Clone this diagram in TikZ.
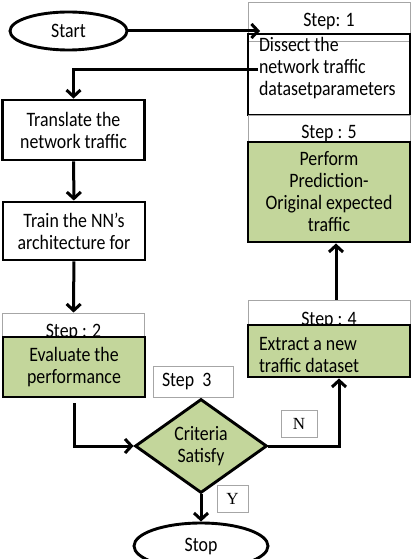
\documentclass[tikz,border=0pt]{standalone}
\usepackage{fontspec}
\setmainfont{Carlito}[FakeStretch=0.87]
\newfontfamily\ynfont{Liberation Serif}
\usetikzlibrary{shapes.geometric,arrows.meta}
\definecolor{boxgreen}{RGB}{195,214,155}

\begin{document}
\begin{tikzpicture}[x=1pt,y=-1pt]
  \useasboundingbox (0,0) rectangle (417,559);

  \tikzset{
    main box/.style={draw, line width=2.9pt, minimum width=142pt, minimum height=60pt,
      align=center, inner sep=0pt, font=\fontsize{20.5}{22}\selectfont},
    green box/.style={main box, fill=boxgreen},
    step box/.style={draw=gray!70, line width=0.9pt, fill=white, minimum width=162pt,
      inner sep=0pt, font=\fontsize{20.5}{22}\selectfont},
    yn box/.style={draw=gray!70, line width=0.9pt, fill=white, inner sep=0pt,
      font=\ynfont\fontsize{17}{17}\selectfont},
    thick arc/.style={-{Straight Barb[length=6.5pt,width=14pt]}, line width=3pt},
  }

  % left column
  \node[main box, ellipse, minimum width=117pt, minimum height=38pt] (start) at (68.5,31) {Start};
  \node[main box] (translate) at (73.5,130) {Translate the\\network traffic};
  \node[main box, minimum height=58pt] (train) at (74,231) {Train the NN’s\\architecture for};
  \node[step box, minimum width=142pt, minimum height=38pt] (s2) at (73.5,332) {Step : 2};
  \node[green box] (evaluate) at (74,367) {Evaluate the\\performance};

  % right column
  \node[step box, minimum height=39pt] (s1) at (329,21.5) {Step: 1};
  \node[main box, minimum width=162pt, minimum height=81pt, align=flush left, text width=140pt,
    text height=14pt, text depth=59pt] (dissect) at (329,74.5)
    {Dissect the\\network traffic\\datasetparameters};
  \node[step box, minimum height=37pt] (s5) at (329,133.5) {Step : 5};
  \node[green box, minimum width=162pt, minimum height=100pt] (perform) at (329,192)
    {Perform\\Prediction-\\Original expected\\traffic};
  \node[step box, minimum height=41pt] (s4) at (329,320.5) {Step : 4};
  \node[green box, minimum width=162pt, minimum height=52pt, align=flush left, text width=140pt,
    text height=14pt, text depth=16pt] (extract) at (329,351) {Extract a new\\traffic dataset};

  % decision
  \node[step box, minimum width=80pt, minimum height=31pt, text width=62pt, align=flush left]
    (s3) at (193,381.5) {Step\ \ 3};
  \node[green box, diamond, aspect=1.4, minimum width=132pt, minimum height=94pt]
    (crit) at (201,446) {Criteria\\Satisfy};
  \node[yn box, minimum width=36pt, minimum height=27pt] (n) at (299,423.5) {N};
  \node[yn box, minimum width=31pt, minimum height=27pt] (y) at (232.5,498.5) {Y};
  \node[main box, ellipse, minimum width=134pt, minimum height=46pt] (stop) at (201,546) {Stop};

  \coordinate (inD) at (260,31);
  \coordinate (outD) at (258,70);

  \draw[thick arc] (start.east) -- (inD);
  \draw[thick arc] (outD) -| (translate.north);
  \draw[thick arc] (translate) -- (train);
  \draw[thick arc] (train) -- (s2);
  \draw[thick arc, shorten <=5pt] (evaluate.south) |- (crit.west);
  \draw[thick arc] (crit.east) -| ([xshift=10pt]extract.south);
  \draw[thick arc] ([xshift=7pt]s4.north) -- ([xshift=7pt]perform.south);
  \draw[thick arc] (crit.south) -- (stop.north);

\end{tikzpicture}
\end{document}
